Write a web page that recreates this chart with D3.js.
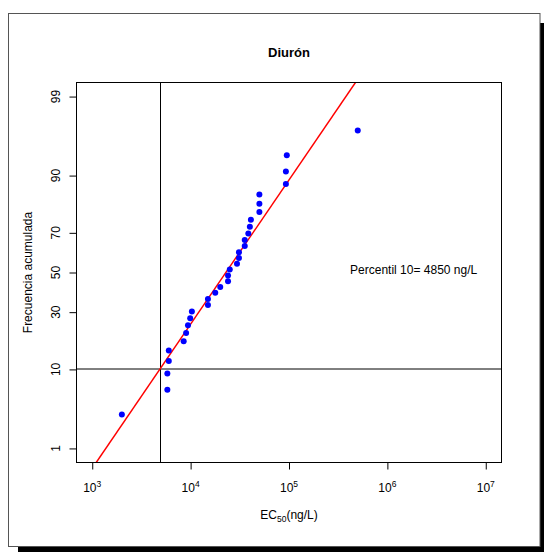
<!DOCTYPE html>
<html>
<head>
<meta charset="utf-8">
<script src="https://cdn.jsdelivr.net/npm/d3@7"></script>
<style>
html,body{margin:0;padding:0;background:#fff;}
svg{display:block;}
text{font-family:"Liberation Sans",Arial,Helvetica,sans-serif;fill:#000;}
</style>
</head>
<body>
<script>
// ---- data ----
const ec50 = [2000, 5800, 5800, 6000, 6000, 8500, 9000, 9400, 9900, 10300,
  15000, 15000, 17800, 20000, 24000, 24000, 25000, 29600, 31000, 31000,
  35500, 35500, 38600, 40000, 41000, 50000, 50000, 50000, 93000, 93000,
  95000, 500000];
const frecuencia = [3.03, 6.06, 9.09, 12.12, 15.15, 18.18, 21.21, 24.24, 27.27, 30.30,
  33.33, 36.36, 39.39, 42.42, 45.45, 48.48, 51.52, 54.55, 57.58, 60.61,
  63.64, 66.67, 69.70, 72.73, 75.76, 78.79, 81.82, 84.85, 87.88, 90.91,
  93.94, 96.97];
const xTickExponents = [3, 4, 5, 6, 7];
const yTickLabels = [1, 10, 30, 50, 70, 90, 99];
const fitMeanLog10 = 4.358;
const fitSdLog10 = 0.5245;
const percentil10 = 4850;
const percentilLevel = 10;
const titleText = "Diurón";
const annotationText = "Percentil 10= 4850 ng/L";

// ---- inverse normal CDF ----
function qnorm(p){
  const a=[-3.969683028665376e+01,2.209460984245205e+02,-2.759285104469687e+02,1.383577518672690e+02,-3.066479806614716e+01,2.506628277459239e+00];
  const b=[-5.447609879822406e+01,1.615858368580409e+02,-1.556989798598866e+02,6.680131188771972e+01,-1.328068155288572e+01];
  const c=[-7.784894002430293e-03,-3.223964580411365e-01,-2.400758277161838e+00,-2.549732539343734e+00,4.374664141464968e+00,2.938163982698783e+00];
  const d=[7.784695709041462e-03,3.224671290700398e-01,2.445134137142996e+00,3.754408661907416e+00];
  const pl=0.02425;
  let q,r;
  if(p<pl){q=Math.sqrt(-2*Math.log(p));return (((((c[0]*q+c[1])*q+c[2])*q+c[3])*q+c[4])*q+c[5])/((((d[0]*q+d[1])*q+d[2])*q+d[3])*q+1);}
  if(p<=1-pl){q=p-0.5;r=q*q;return (((((a[0]*r+a[1])*r+a[2])*r+a[3])*r+a[4])*r+a[5])*q/(((((b[0]*r+b[1])*r+b[2])*r+b[3])*r+b[4])*r+1);}
  q=Math.sqrt(-2*Math.log(1-p));return -(((((c[0]*q+c[1])*q+c[2])*q+c[3])*q+c[4])*q+c[5])/((((d[0]*q+d[1])*q+d[2])*q+d[3])*q+1);
}

const W=544,H=552;
const svg=d3.select("body").append("svg").attr("width",W).attr("height",H);

// frame with shadow
svg.append("rect").attr("x",18).attr("y",23).attr("width",540).attr("height",540).attr("fill","#000");
svg.append("rect").attr("x",8.5).attr("y",13.5).attr("width",531.5).attr("height",533).attr("fill","#fff").attr("stroke","#555").attr("stroke-width",1);

// plot region
const L=76.5,R=501.5,T=82.5,B=462.5;
const lx0=3-0.04*4, lx1=7+0.04*4;
const x=d3.scaleLog().domain([Math.pow(10,lx0),Math.pow(10,lx1)]).range([L,R]);
const zmax=qnorm(0.99)*1.08;
const yz=d3.scaleLinear().domain([-zmax,zmax]).range([B,T]);
const y=pct=>yz(qnorm(pct/100));

svg.append("defs").append("clipPath").attr("id","clip").append("rect")
  .attr("x",L).attr("y",T).attr("width",R-L).attr("height",B-T);

// axes
const xAxis=d3.axisBottom(x).tickValues(xTickExponents.map(e=>Math.pow(10,e))).tickSize(7).tickFormat("");
const gx=svg.append("g").attr("transform",`translate(0,${B})`).call(xAxis);
gx.select(".domain").remove();
gx.selectAll(".tick line").attr("stroke","#000");
xTickExponents.forEach(e=>{
  const t=svg.append("text").attr("x",x(Math.pow(10,e))).attr("y",492).attr("text-anchor","middle").attr("font-size",12);
  t.append("tspan").text("10");
  t.append("tspan").attr("font-size",8.5).attr("dy",-5).text(e);
});

const yAxis=d3.axisLeft(yz).tickValues(yTickLabels.map(v=>qnorm(v/100))).tickSize(7).tickFormat("");
const gy=svg.append("g").attr("transform",`translate(${L},0)`).call(yAxis);
gy.select(".domain").remove();
gy.selectAll(".tick line").attr("stroke","#000");
yTickLabels.forEach(v=>{
  svg.append("text").attr("transform",`translate(60,${y(v)}) rotate(-90)`)
    .attr("text-anchor","middle").attr("font-size",12).text(v);
});

// reference lines
const plot=svg.append("g").attr("clip-path","url(#clip)");
const hy=Math.round(y(percentilLevel));
plot.append("line").attr("x1",L).attr("x2",R).attr("y1",hy).attr("y2",hy)
  .attr("stroke","#000").attr("stroke-width",1);
plot.append("line").attr("x1",Math.round(x(percentil10))+0.5).attr("x2",Math.round(x(percentil10))+0.5).attr("y1",T).attr("y2",B)
  .attr("stroke","#000").attr("stroke-width",1);

// fitted line
const zs=[-zmax,zmax];
plot.append("line")
  .attr("x1",x(Math.pow(10,fitMeanLog10+fitSdLog10*zs[0]))).attr("y1",yz(zs[0]))
  .attr("x2",x(Math.pow(10,fitMeanLog10+fitSdLog10*zs[1]))).attr("y2",yz(zs[1]))
  .attr("stroke","#ff0000").attr("stroke-width",1.4);

// points
svg.append("g").selectAll("circle").data(ec50).join("circle")
  .attr("cx",d=>x(d)).attr("cy",(d,i)=>y(frecuencia[i])).attr("r",3).attr("fill","#0000ff");

// box
svg.append("rect").attr("x",L).attr("y",T).attr("width",R-L).attr("height",B-T)
  .attr("fill","none").attr("stroke","#000").attr("stroke-width",1);

// title & labels
svg.append("text").attr("x",(L+R)/2).attr("y",57).attr("text-anchor","middle")
  .attr("font-size",13).attr("font-weight","bold").text(titleText);
const xl=svg.append("text").attr("x",(L+R)/2).attr("y",519).attr("text-anchor","middle").attr("font-size",12);
xl.append("tspan").text("EC");
xl.append("tspan").attr("font-size",8.5).attr("dy",3).text("50");
xl.append("tspan").attr("dy",-3).text("(ng/L)");
svg.append("text").attr("transform",`translate(32,${(T+B)/2}) rotate(-90)`).attr("text-anchor","middle")
  .attr("font-size",12).text("Frecuencia acumulada");
svg.append("text").attr("x",x(1.85e6)).attr("y",y(50)+1).attr("text-anchor","middle")
  .attr("font-size",12).text(annotationText);
</script>
</body>
</html>
